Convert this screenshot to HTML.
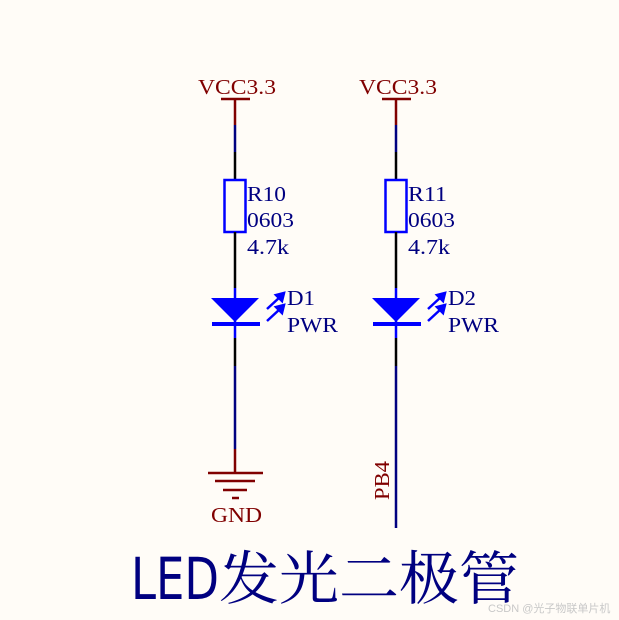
<!DOCTYPE html>
<html><head><meta charset="utf-8"><style>
html,body{margin:0;padding:0;background:#fffcf7}
svg{display:block}
</style></head><body>
<svg width="619" height="620" viewBox="0 0 619 620" xmlns="http://www.w3.org/2000/svg">
<rect width="619" height="620" fill="#fffcf7"/>
<g font-family="Liberation Serif, serif" font-size="21" lengthAdjust="spacingAndGlyphs">
<!-- left column -->
<text x="198" y="94" fill="#800000" textLength="78" lengthAdjust="spacingAndGlyphs">VCC3.3</text>
<line x1="221" y1="99" x2="250" y2="99" stroke="#800000" stroke-width="2.5"/>
<line x1="235" y1="99" x2="235" y2="125" stroke="#800000" stroke-width="2.5"/>
<line x1="235" y1="125" x2="235" y2="152" stroke="#000080" stroke-width="2.5"/>
<line x1="235" y1="152" x2="235" y2="180" stroke="#000" stroke-width="2.5"/>
<rect x="224.5" y="180" width="21" height="52" fill="none" stroke="#0000ff" stroke-width="2.5"/>
<line x1="235" y1="232" x2="235" y2="288" stroke="#000" stroke-width="2.5"/>
<line x1="235" y1="288" x2="235" y2="338" stroke="#0000ff" stroke-width="2.5"/>
<polygon points="211,298 259,298 235,322" fill="#0000ff"/>
<rect x="212" y="322" width="48" height="4" fill="#0000ff"/>
<line x1="235" y1="338" x2="235" y2="366" stroke="#000" stroke-width="2.5"/>
<line x1="235" y1="366" x2="235" y2="449" stroke="#000080" stroke-width="2.5"/>
<line x1="235" y1="449" x2="235" y2="473" stroke="#800000" stroke-width="2.5"/>
<g stroke="#800000" stroke-width="2.5">
<line x1="208" y1="473" x2="263" y2="473"/>
<line x1="215" y1="481" x2="255" y2="481"/>
<line x1="223" y1="490" x2="247" y2="490"/>
<line x1="232" y1="498" x2="239" y2="498"/>
</g>
<text x="211" y="522" fill="#800000" textLength="51" lengthAdjust="spacingAndGlyphs">GND</text>
<text x="247" y="201" fill="#000080" textLength="39" lengthAdjust="spacingAndGlyphs">R10</text>
<text x="247" y="227" fill="#000080" textLength="47" lengthAdjust="spacingAndGlyphs">0603</text>
<text x="247" y="254" fill="#000080" textLength="42" lengthAdjust="spacingAndGlyphs">4.7k</text>
<text x="287" y="305" fill="#000080" textLength="28" lengthAdjust="spacingAndGlyphs">D1</text>
<text x="287" y="332" fill="#000080" textLength="51" lengthAdjust="spacingAndGlyphs">PWR</text>
<g stroke="#0000ff" stroke-width="2.5" fill="#0000ff">
<line x1="267" y1="309" x2="280" y2="297"/><polygon points="284,293 276,295 282,301"/>
<line x1="267" y1="321" x2="280" y2="309"/><polygon points="284,305 276,307 282,313"/>
</g>
<!-- right column -->
<text x="359" y="94" fill="#800000" textLength="78" lengthAdjust="spacingAndGlyphs">VCC3.3</text>
<line x1="382" y1="99" x2="411" y2="99" stroke="#800000" stroke-width="2.5"/>
<line x1="396" y1="99" x2="396" y2="125" stroke="#800000" stroke-width="2.5"/>
<line x1="396" y1="125" x2="396" y2="152" stroke="#000080" stroke-width="2.5"/>
<line x1="396" y1="152" x2="396" y2="180" stroke="#000" stroke-width="2.5"/>
<rect x="385.5" y="180" width="21" height="52" fill="none" stroke="#0000ff" stroke-width="2.5"/>
<line x1="396" y1="232" x2="396" y2="288" stroke="#000" stroke-width="2.5"/>
<line x1="396" y1="288" x2="396" y2="338" stroke="#0000ff" stroke-width="2.5"/>
<polygon points="372,298 420,298 396,322" fill="#0000ff"/>
<rect x="373" y="322" width="48" height="4" fill="#0000ff"/>
<line x1="396" y1="338" x2="396" y2="366" stroke="#000" stroke-width="2.5"/>
<line x1="396" y1="366" x2="396" y2="528" stroke="#000080" stroke-width="2.5"/>
<text x="408" y="201" fill="#000080" textLength="39" lengthAdjust="spacingAndGlyphs">R11</text>
<text x="408" y="227" fill="#000080" textLength="47" lengthAdjust="spacingAndGlyphs">0603</text>
<text x="408" y="254" fill="#000080" textLength="42" lengthAdjust="spacingAndGlyphs">4.7k</text>
<text x="448" y="305" fill="#000080" textLength="28" lengthAdjust="spacingAndGlyphs">D2</text>
<text x="448" y="332" fill="#000080" textLength="51" lengthAdjust="spacingAndGlyphs">PWR</text>
<g stroke="#0000ff" stroke-width="2.5" fill="#0000ff">
<line x1="428" y1="309" x2="441" y2="297"/><polygon points="445,293 437,295 443,301"/>
<line x1="428" y1="321" x2="441" y2="309"/><polygon points="445,305 437,307 443,313"/>
</g>
<text transform="translate(389,500) rotate(-90)" fill="#800000" textLength="39" lengthAdjust="spacingAndGlyphs">PB4</text>
</g>
<text x="131" y="599" font-family="DejaVu Sans, sans-serif" font-size="58" fill="#000080" textLength="88" lengthAdjust="spacingAndGlyphs">LED</text>
<text x="219" y="599" font-family="Noto Serif CJK SC, serif" font-size="58" fill="#000080" textLength="300" lengthAdjust="spacingAndGlyphs">发光二极管</text>
<text x="488" y="612" font-family="Liberation Sans, Noto Sans CJK SC, sans-serif" font-size="11" fill="#c8c8c8">CSDN @光子物联单片机</text>
</svg>
</body></html>
